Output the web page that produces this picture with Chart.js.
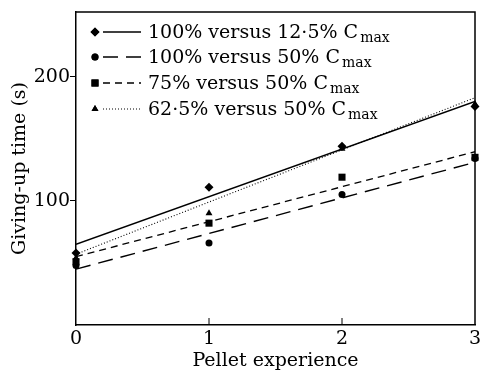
<!DOCTYPE html>
<html><head><meta charset="utf-8">
<script src="https://cdn.jsdelivr.net/npm/chart.js@4.4.1/dist/chart.umd.min.js"></script>
<style>html,body{margin:0;padding:0;background:#fff}#wrap{width:480px;height:372px}</style>
</head><body><div id="wrap"><canvas id="c" width="480" height="372"></canvas></div>
<script>
// ---- data ----
const experience = [0, 1, 2, 3];
const seriesLabels = ['100% versus 12·5% C', '100% versus 50% C', '75% versus 50% C', '62·5% versus 50% C'];
const pts100v12 = [58, 111, 144, 176];
const pts100v50 = [48, 66, 105, 134];
const pts75v50 = [51, 82, 119, 135];
const pts62v50 = [54, 90, 142, 178];
const fitX = [0, 3];
const fit100v12 = [65, 180];
const fit100v50 = [45, 131];
const fit75v50 = [55, 139.5];
const fit62v50 = [57, 183];
const xTicks = [0, 1, 2, 3];
const yTicks = [100, 200];

const FONT = 'DejaVu Serif';
const toXY = (xs, ys) => xs.map((x, i) => ({x: x, y: ys[i]}));

const markerStyles = ['rectRot', 'circle', 'rect', 'triangle'];
const markerRadius = [4.5, 3.5, 5, 4];
const dashes = [[], [15, 8], [7, 5], [1, 2]];
const lineWidths = [1.5, 1.4, 1.3, 1.1];
const ptsAll = [pts100v12, pts100v50, pts75v50, pts62v50];
const fitsAll = [fit100v12, fit100v50, fit75v50, fit62v50];

const datasets = [];
fitsAll.forEach((f, i) => datasets.push({
  type: 'line', label: seriesLabels[i] + ' fit', data: toXY(fitX, f),
  borderColor: '#000', borderWidth: lineWidths[i], borderDash: dashes[i],
  pointRadius: 0, fill: false, tension: 0
}));
ptsAll.forEach((p, i) => datasets.push({
  type: 'scatter', label: seriesLabels[i], data: toXY(experience, p),
  pointStyle: markerStyles[i], pointRadius: markerRadius[i],
  backgroundColor: '#000', borderColor: '#000', borderWidth: 0, showLine: false, clip: false
}));

const framePlugin = {
  id: 'frame',
  afterDraw(chart) {
    const {ctx, chartArea: a, scales} = chart;
    ctx.save();
    ctx.strokeStyle = '#000';
    ctx.lineWidth = 1.5;
    ctx.beginPath();
    ctx.moveTo(a.left, a.top); ctx.lineTo(a.right, a.top); ctx.lineTo(a.right, a.bottom);
    ctx.stroke();
    // inward ticks on x axis
    ctx.lineWidth = 1;
    xTicks.slice(1, -1).forEach(v => {
      const x = scales.x.getPixelForValue(v);
      ctx.beginPath(); ctx.moveTo(x, a.bottom); ctx.lineTo(x, a.bottom - 7); ctx.stroke();
    });
    // legend
    const rows = [32, 57, 83, 109];
    rows.forEach((y, i) => {
      Chart.helpers.drawPoint(ctx, {pointStyle: markerStyles[i], radius: markerRadius[i], borderWidth: 0, rotation: 0}, 95, y);
      ctx.fillStyle = '#000';
      ctx.fill();
      ctx.beginPath();
      ctx.lineWidth = lineWidths[i];
      ctx.setLineDash(dashes[i]);
      ctx.moveTo(103, y); ctx.lineTo(141, y);
      ctx.stroke();
      ctx.setLineDash([]);
      ctx.fillStyle = '#000';
      ctx.textBaseline = 'alphabetic';
      ctx.textAlign = 'left';
      ctx.font = '19px "' + FONT + '"';
      const t = seriesLabels[i];
      ctx.fillText(t, 148, y + 6);
      const w = ctx.measureText(t).width;
      ctx.font = '14px "' + FONT + '"';
      ctx.fillText('max', 148 + w + 2, y + 10);
    });
    ctx.restore();
  }
};

new Chart(document.getElementById('c'), {
  data: {datasets},
  options: {
    responsive: false, animation: false, devicePixelRatio: 1,
    layout: {padding: {left: 0, right: 4, top: 12, bottom: 0}},
    plugins: {legend: {display: false}, tooltip: {enabled: false}},
    scales: {
      x: {
        type: 'linear', min: 0, max: 3,
        afterBuildTicks: s => { s.ticks = xTicks.map(v => ({value: v})); },
        afterFit: s => { s.height = 47; s.paddingLeft = 0; s.paddingRight = 0; },
        ticks: {color: '#000', font: {family: FONT, size: 19}, padding: 3, maxRotation: 0},
        grid: {drawOnChartArea: false, drawTicks: false},
        border: {color: '#000', width: 1.5},
        title: {display: true, text: 'Pellet experience', color: '#000', font: {family: FONT, size: 19}, padding: {top: 0, bottom: 0}}
      },
      y: {
        type: 'linear', min: 0, max: 252,
        afterBuildTicks: s => { s.ticks = yTicks.map(v => ({value: v})); },
        afterFit: s => { s.width = 76; s.paddingTop = 0; s.paddingBottom = 0; },
        ticks: {color: '#000', font: {family: FONT, size: 19}, padding: 0},
        grid: {drawOnChartArea: false, drawTicks: true, tickLength: 6, color: '#000'},
        border: {color: '#000', width: 1.5},
        title: {display: true, text: 'Giving-up time (s)', color: '#000', font: {family: FONT, size: 19}, padding: {top: 9, bottom: 0}}
      }
    }
  },
  plugins: [framePlugin]
});
</script></body></html>
